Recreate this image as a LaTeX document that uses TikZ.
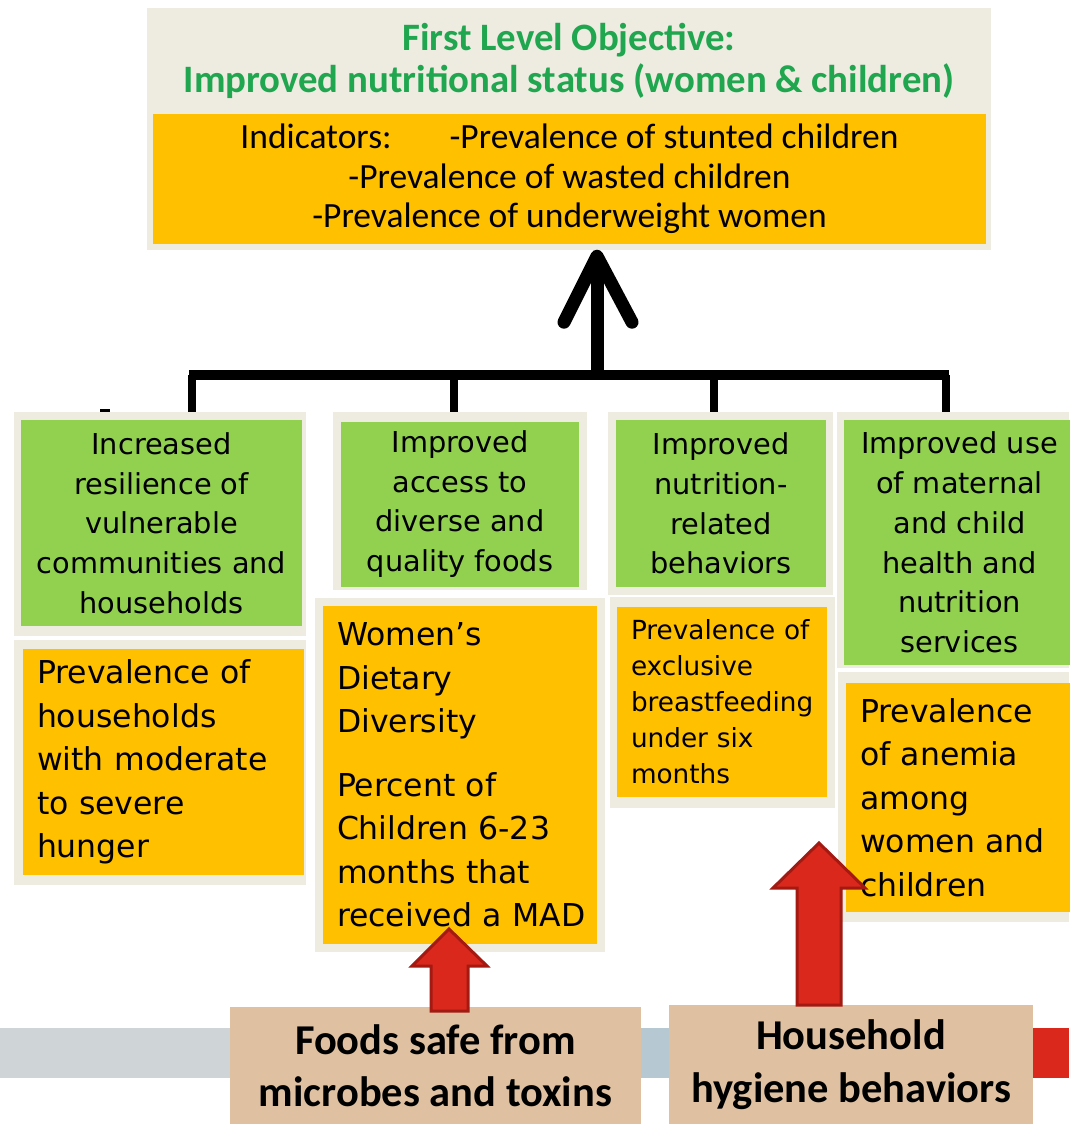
\documentclass[tikz,border=0pt]{standalone}
\usepackage{fontspec}
\setmainfont{DejaVu Sans}
\newfontfamily\calfont{Carlito}
\usetikzlibrary{arrows.meta}
\definecolor{beige}{HTML}{EEEBE1}
\definecolor{leaf}{HTML}{92D050}
\definecolor{amber}{HTML}{FFC000}
\definecolor{titlegreen}{HTML}{1FA64E}
\definecolor{arrowred}{HTML}{DA291C}
\definecolor{arrowdark}{HTML}{A31A12}
\definecolor{tan}{HTML}{DFC1A2}
\definecolor{bargrey}{HTML}{CFD4D6}
\definecolor{barblue}{HTML}{B6C9D3}
\tikzset{
  frame/.style={fill=beige, inner sep=0pt},
  greenbox/.style={fill=leaf, inner sep=0pt, align=center, font=\fontsize{28.8}{39.7}\selectfont},
  amberbox/.style={fill=amber, inner xsep=14pt, inner ysep=0pt, align=left, font=\fontsize{31.5}{43.5}\selectfont},
  tanbox/.style={fill=tan, inner sep=0pt, align=center, font=\calfont\bfseries\fontsize{42.5}{52.5}\selectfont},
  treeline/.style={line width=8pt, black},
  redarr/.style={fill=arrowred, draw=arrowdark, line width=3pt, line join=miter},
}
\begin{document}
\begin{tikzpicture}[x=1pt,y=-1pt]
\useasboundingbox[fill=white] (0,0) rectangle (1069,1124);

% top objective
\node[frame, minimum width=844pt, minimum height=242pt] (f0) at (569,129) {};
\node[inner sep=0pt, align=center, text=titlegreen, font=\calfont\bfseries\fontsize{38.8}{42}\selectfont] (title) at (569,61)
  {First Level Objective:\\Improved nutritional status (women \& children)};
\node[fill=amber, inner sep=0pt, minimum width=833pt, minimum height=130pt, align=center,
      font=\calfont\fontsize{35.5}{39.5}\selectfont] (ind) at (569.5,179)
  {Indicators:\hspace{58pt}-Prevalence of stunted children\\-Prevalence of wasted children\\-Prevalence of underweight women};

% green objectives
\node[frame, minimum width=292pt, minimum height=224pt] (gf1) at (160,524) {};
\node[greenbox, minimum width=281pt, minimum height=206pt] (g1) at (161.5,523)
  {Increased\\resilience of\\vulnerable\\communities and\\households};
\node[frame, minimum width=254pt, minimum height=178pt] (gf2) at (460,501) {};
\node[greenbox, minimum width=238pt, minimum height=165pt] (g2) at (460,504)
  {Improved\\access to\\diverse and\\quality foods};
\node[frame, minimum width=225pt, minimum height=183pt] (gf3) at (720.5,503.5) {};
\node[greenbox, minimum width=210pt, minimum height=167pt] (g3) at (721,503.5)
  {Improved\\nutrition-\\related\\behaviors};
\node[frame, minimum width=232pt, minimum height=256pt] (gf4) at (953,540) {};
\node[greenbox, minimum width=231pt, minimum height=245pt] (g4) at (959.5,542.5)
  {Improved use\\of maternal\\and child\\health and\\nutrition\\services};

% amber indicators
\node[frame, minimum width=292pt, minimum height=245pt] (of1) at (160,762.5) {};
\node[amberbox, minimum width=281pt, minimum height=226pt, text width=253pt] (o1) at (163.5,762)
  {Prevalence of\\households\\with moderate\\to severe\\hunger};
\node[frame, minimum width=290pt, minimum height=354pt] (of2) at (460,775) {};
\node[amberbox, minimum width=274pt, minimum height=338pt, text width=246pt] (o2) at (460,775)
  {Women’s\\Dietary\\Diversity\\[20pt]Percent of\\Children 6-23\\months that\\\mbox{received a MAD}};
\node[frame, minimum width=225pt, minimum height=211pt] (of3) at (722.5,702.5) {};
\node[amberbox, minimum width=210pt, minimum height=190pt, text width=182pt, font=\fontsize{26.3}{36}\selectfont] (o3) at (722,702)
  {Prevalence of\\exclusive\\breastfeeding\\under six\\months};
\node[frame, minimum width=231pt, minimum height=250pt] (of4) at (953.5,797) {};
\node[amberbox, minimum width=229pt, minimum height=229pt, text width=201pt] (o4) at (960.5,797.5)
  {Prevalence\\of anemia\\among\\women and\\children};

% tree connector
\coordinate (hub) at (597,375);
\coordinate (d1) at (192,375);
\coordinate (d2) at (454,375);
\coordinate (d3) at (714,375);
\coordinate (d4) at (946,375);
\draw[line width=10pt] ([xshift=-3pt]d1) -- ([xshift=3pt]d4);
\draw[treeline] (d1) -- (d1 |- gf1.north);
\draw[treeline] (d2) -- (d2 |- gf2.north);
\draw[treeline] (d3) -- (d3 |- gf3.north);
\draw[treeline] (d4) -- (d4 |- gf4.north);
\draw[line width=13pt] (hub) -- ([yshift=-16pt]hub |- f0.south);
\draw[line width=13pt, line cap=round, line join=round]
  ([xshift=-33pt,yshift=-72pt]hub |- f0.south) -- ([yshift=-6pt]hub |- f0.south) -- ([xshift=35pt,yshift=-72pt]hub |- f0.south);
\draw[line width=3pt] (100,410) -- (110,410);

% bottom bar and boxes
\fill[bargrey] (0,1028) rectangle (450,1078);
\fill[barblue] (450,1028) rectangle (850,1078);
\fill[arrowred] (850,1028) rectangle (1069,1078);
\node[tanbox, minimum width=411pt, minimum height=117pt] (b1) at (435.5,1065.5)
  {Foods safe from\\microbes and toxins};
\node[tanbox, minimum width=364pt, minimum height=119pt] (b2) at (851,1064.5)
  {Household\\hygiene behaviors};

% red arrows
\draw[redarr] (431,1011) -- (431,966) -- (412,966) -- (449,929) -- (487,966) -- (468,966) -- (468,1011) -- cycle;
\draw[redarr] (797,1005) -- (797,888) -- (773,888) -- (819,843) -- (865,888) -- (841,888) -- (841,1005) -- cycle;
\end{tikzpicture}
\end{document}
